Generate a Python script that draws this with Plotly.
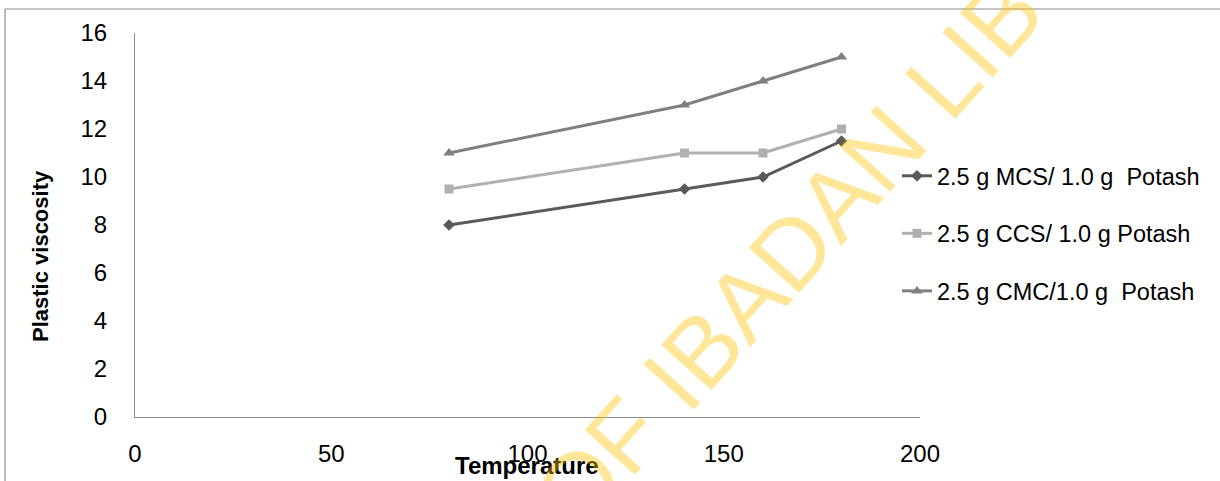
import plotly.graph_objects as go

temperature = [80, 140, 160, 180]
mcs = [8, 9.5, 10, 11.5]
ccs = [9.5, 11, 11, 12]
cmc = [11, 13, 14, 15]
names = ["2.5 g MCS/ 1.0 g\u00a0 Potash", "2.5 g CCS/ 1.0 g Potash", "2.5 g CMC/1.0 g\u00a0 Potash"]
x_ticks = [0, 50, 100, 150, 200]
y_ticks = [0, 2, 4, 6, 8, 10, 12, 14, 16]

FONT = "Liberation Sans"
W, H = 1220, 481
L, R, T, B = 135, 300, 33, 64
pw, ph = W - L - R, H - T - B

def px(x):
    return (x - L) / pw

def py(y):
    return (H - B - y) / ph

fig = go.Figure()
styles = [
    (mcs, "#5a5a5a", "diamond", 9),
    (ccs, "#b0b0b0", "square", 9),
    (cmc, "#7f7f7f", "triangle-up", 10),
]
for i, (vals, col, sym, sz) in enumerate(styles):
    fig.add_trace(go.Scatter(
        x=temperature, y=vals, name=names[i], mode="lines+markers",
        line=dict(color=col, width=3), marker=dict(symbol=sym, size=sz, color=col),
        legendgroup=f"g{i}",
    ))

fig.update_layout(
    width=W, height=H,
    margin=dict(l=L, r=R, t=T, b=B),
    paper_bgcolor="white", plot_bgcolor="white",
    font=dict(family=FONT, size=23, color="black"),
    showlegend=True,
    legend=dict(x=px(897), y=py(154), xanchor="left", yanchor="top",
                font=dict(family=FONT, size=23.5, color="black"),
                tracegroupgap=24, bgcolor="rgba(0,0,0,0)", borderwidth=0),
    xaxis=dict(range=[0, 200], tickvals=x_ticks, showgrid=False, zeroline=False,
               showline=True, linecolor="#8c8c8c", linewidth=1, ticks="",
               tickfont=dict(family=FONT, size=24), ticklabelstandoff=15),
    yaxis=dict(range=[0, 16], tickvals=y_ticks, showgrid=False, zeroline=False,
               showline=True, linecolor="#8c8c8c", linewidth=1, ticks="",
               tickfont=dict(family=FONT, size=24), ticklabelstandoff=22),
)

# axis titles
fig.add_annotation(text="<b>Temperature</b>", xref="paper", yref="paper",
                   x=px(527), y=py(465), xanchor="center", yanchor="middle",
                   showarrow=False, font=dict(family=FONT, size=24, color="black"))
fig.add_annotation(text="<b>Plastic viscosity</b>", xref="paper", yref="paper",
                   x=px(40), y=py(256), xanchor="center", yanchor="middle", textangle=-90,
                   showarrow=False, font=dict(family=FONT, size=22, color="black"))

# frame lines
fig.add_shape(type="line", xref="paper", yref="paper", x0=px(5), x1=px(1225), y0=py(9), y1=py(9),
              line=dict(color="#8c8c8c", width=1.2))
fig.add_shape(type="line", xref="paper", yref="paper", x0=px(5), x1=px(5), y0=py(9), y1=py(490),
              line=dict(color="#8c8c8c", width=1.2))

# watermark
fig.add_annotation(text="OF IBADAN LIB", xref="paper", yref="paper",
                   x=px(788), y=py(254), xanchor="center", yanchor="middle", textangle=-48,
                   showarrow=False, font=dict(family=FONT, size=98, color="rgba(255,192,0,0.4)"))

fig.write_html("out.html")
